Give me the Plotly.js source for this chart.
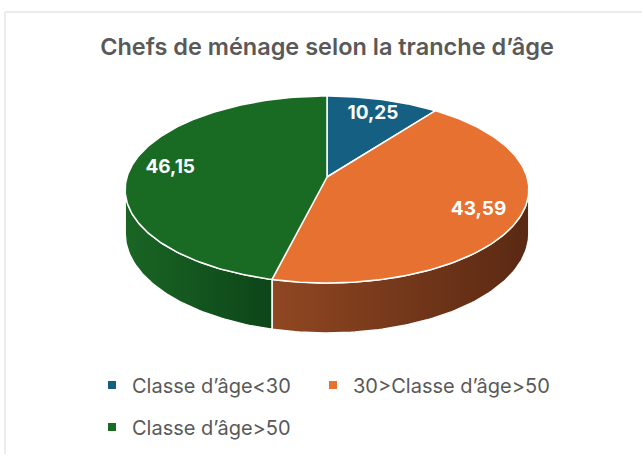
<!DOCTYPE html>
<html><head><meta charset="utf-8">
<script src="https://cdn.plot.ly/plotly-3.0.1.min.js"></script>
<style>html,body{margin:0;padding:0;background:#fff}#chart{width:642px;height:454px}</style>
</head><body><div id="chart"></div>
<script>
// ---- data ----
const categories = ["Classe d’âge<30", "30>Classe d’âge>50", "Classe d’âge>50"];
const values = [10.25, 43.59, 46.15];
const chartTitle = "Chefs de ménage selon la tranche d’âge";

// ---- styles ----
const topColors = ["#156082", "#E77131", "#196B24"];
const wallLeft = ["#0E4058", "#904722", "#1A6524"];
const wallRight = ["#0A2E40", "#5A2913", "#0D4519"];

// ---- geometry (layout constants, pixel-space axes, simple perspective) ----
const W = 642, H = 454;
const vx = 327, vy = 177;      // projected pie centre
const A = 200, B = 91.8;       // horizontal / vertical radii
const P = 0.134;               // perspective factor
const D = 43.3;                // wall thickness
const FONT = "Inter, 'Liberation Sans', Arial, sans-serif";

function pt(deg, f, dz) {
  const t = deg * Math.PI / 180;
  const u = f * Math.sin(t), w = f * Math.cos(t);
  const s = 1 / (1 + P * w);
  return [vx + A * u * s, vy - B * w * s + (dz || 0) * s];
}
function arc(a1, a2, dz) {
  const xs = [], ys = [];
  const n = Math.max(2, Math.ceil(Math.abs(a2 - a1)));
  for (let i = 0; i <= n; i++) {
    const p = pt(a1 + (a2 - a1) * i / n, 1, dz);
    xs.push(p[0]); ys.push(p[1]);
  }
  return [xs, ys];
}

const total = values.reduce((a, b) => a + b, 0);
const ranges = [];
let acc = 0;
values.forEach(v => { const a1 = acc / total * 360; acc += v; ranges.push([a1, acc / total * 360]); });

const visA = Math.acos(-P) * 180 / Math.PI, visB = 360 - visA;
const traces = [];
// side walls (visible front part)
ranges.forEach((r, i) => {
  const s = Math.max(r[0], visA), e = Math.min(r[1], visB);
  if (e <= s) return;
  const top = arc(s, e, 0), bot = arc(e, s, D);
  traces.push({
    type: "scatter", mode: "lines", x: top[0].concat(bot[0], [top[0][0]]), y: top[1].concat(bot[1], [top[1][0]]),
    fill: "toself", fillcolor: wallLeft[i],
    fillgradient: { type: "horizontal", colorscale: [[0, wallLeft[i]], [1, wallRight[i]]] },
    line: { color: "#ffffff", width: 1.5 }, hoverinfo: "skip", showlegend: false
  });
});
// top slices
ranges.forEach((r, i) => {
  const a = arc(r[0], r[1], 0);
  traces.push({
    type: "scatter", mode: "lines", x: [vx].concat(a[0], [vx]), y: [vy].concat(a[1], [vy]),
    fill: "toself", fillcolor: topColors[i],
    line: { color: "#ffffff", width: 1.5 }, hoverinfo: "skip", showlegend: false
  });
});
// labels
const lx = [], ly = [];
ranges.forEach(r => { const p = pt((r[0] + r[1]) / 2, 0.8, 0); lx.push(p[0]); ly.push(p[1]); });
traces.push({
  type: "scatter", mode: "text", x: lx, y: ly,
  text: values.map(v => v.toFixed(2).replace(".", ",")),
  textposition: "middle center",
  textfont: { family: FONT, size: 19, color: "#ffffff", weight: 700 },
  hoverinfo: "skip", showlegend: false
});
// legend entries (one legend box per entry to mimic the Excel layout)
const legendIds = ["legend", "legend2", "legend3"];
categories.forEach((c, i) => {
  traces.push({
    type: "scatter", mode: "markers", x: [null], y: [null], name: c,
    marker: { symbol: "square", size: 8, color: topColors[i] },
    legend: legendIds[i], showlegend: true
  });
});

const legBase = {
  orientation: "h", xanchor: "left", yanchor: "middle",
  font: { family: FONT, size: 20, color: "#595959" }, bgcolor: "rgba(0,0,0,0)"
};

const layout = {
  width: W, height: H,
  margin: { l: 0, r: 0, t: 0, b: 0 },
  paper_bgcolor: "#ffffff", plot_bgcolor: "#ffffff",
  title: { text: chartTitle, x: 327 / W, xanchor: "center", y: 1 - 47 / H, yanchor: "middle",
    font: { family: FONT, size: 23.5, color: "#595959", weight: 600 } },
  xaxis: { range: [0, W], visible: false, fixedrange: true },
  yaxis: { range: [H, 0], visible: false, fixedrange: true },
  showlegend: true,
  legend: Object.assign({}, legBase, { x: 92 / W, y: 1 - 385 / H }),
  legend2: Object.assign({}, legBase, { x: 313 / W, y: 1 - 385 / H }),
  legend3: Object.assign({}, legBase, { x: 92 / W, y: 1 - 427 / H }),
  shapes: [{ type: "rect", xref: "paper", yref: "paper", x0: 5 / W, x1: 1.2, y0: -0.2, y1: 1 - 12 / H,
    line: { color: "#DADADA", width: 1 }, fillcolor: "rgba(0,0,0,0)", layer: "below" }],
  hovermode: false
};

Plotly.newPlot("chart", traces, layout, { displayModeBar: false, staticPlot: true });
</script></body></html>
